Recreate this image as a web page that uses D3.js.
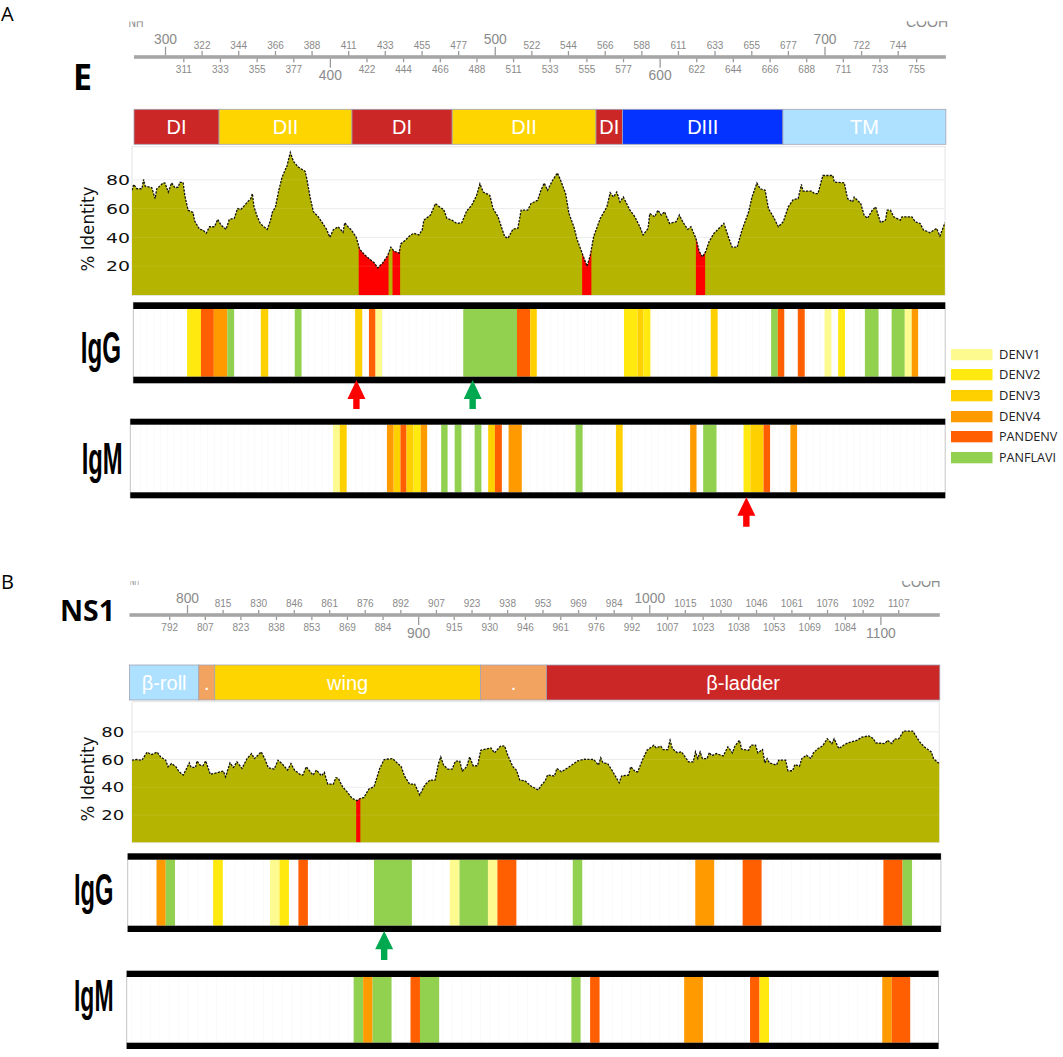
<!DOCTYPE html>
<html><head><meta charset="utf-8">
<script src="https://cdn.jsdelivr.net/npm/d3@7/dist/d3.min.js"></script>
<style>html,body{margin:0;padding:0;background:#fff}svg{display:block}</style>
</head><body><svg id="c" width="1063" height="1057"></svg>
<script>
// ---------- DATA ----------
const serotypes = ["DENV1","DENV2","DENV3","DENV4","PANDENV","PANFLAVI"];

const eTicksTop = [300,322.2,344.4,366.7,388.9,411.1,433.3,455.6,477.8,500,522.2,544.4,566.7,588.9,611.1,633.3,655.6,677.8,700,722.2,744.4];
const eTicksBottom = [311.1,333.3,355.6,377.8,400,422.2,444.4,466.7,488.9,511.1,533.3,555.6,577.8,600,622.2,644.4,666.7,688.9,711.1,733.3,755.6];
const ns1TicksTop = [800,815.4,830.8,846.2,861.5,876.9,892.3,907.7,923.1,938.5,953.8,969.2,984.6,1000,1015.4,1030.8,1046.2,1061.5,1076.9,1092.3,1107.7];
const ns1TicksBottom = [792.3,807.7,823.1,838.5,853.8,869.2,884.6,900,915.4,930.8,946.2,961.5,976.9,992.3,1007.7,1023.1,1038.5,1053.8,1069.2,1084.6,1100];
const majorTicks = [300,400,500,600,700,800,900,1000,1100];
const identityTicks = [80,60,40,20];

const eDomainNames = ["DI","DII","DI","DII","DI","DIII","TM"];
const eDomainEdges = [281.2,332.8,413.4,474.2,561.4,577.5,674.8,773.6];
const ns1DomainNames = ["β-roll",".","wing",".","β-ladder"];
const ns1DomainEdges = [775.1,805.1,812,927,955.5,1125.7];

const eProfile = [[280,72.7],[281,76.8],[283,73.8],[286,73.8],[287,80.2],[288,75.6],[292,74.5],[294,66.9],[295,73.8],[299,77.9],[300,77.7],[302,71.5],[304,77.9],[306,74.5],[308,74.9],[309,78.2],[311,78.2],[312,69.2],[314,58.9],[317,57.3],[318,51.3],[321,45.6],[323,45.2],[325,42.9],[327,47.4],[330,47.4],[332,52.5],[334,48.6],[337,45.6],[339,52.5],[342,53.2],[344,60],[346,59.4],[348,61.9],[350,64.6],[352,66.9],[353,70.4],[354,61.2],[356,54.3],[358,49.3],[362,45.6],[364,52],[365,57.1],[367,61.2],[369,72.7],[371,81.8],[374,89.8],[376,99],[378,92.6],[381,88.7],[385,85.9],[386,80.7],[388,68],[390,57.8],[393,54.3],[395,50.9],[398,45.6],[400,40.1],[402,45.2],[405,47.4],[408,43.5],[409,50.2],[411,47.4],[413,45.2],[416,40.1],[418,31.9],[421,28],[424,25],[427,22.2],[429,18.8],[432,22.2],[435,27.3],[437,33.2],[439,30.3],[442,29.1],[443,35.5],[446,38.3],[449,41.7],[451,42.9],[454,41.7],[456,45.2],[457,52],[461,55.5],[464,63.5],[467,60.7],[469,59.4],[471,53.2],[474,52],[477,49.7],[480,50.2],[483,58.4],[486,62.3],[489,69.2],[491,77.2],[493,71.5],[497,69.2],[499,60],[502,54.3],[504,47.4],[506,40.6],[508,39.4],[511,45.6],[514,46.3],[516,58.9],[520,58.9],[522,63.5],[526,65.8],[528,72.7],[530,77.7],[532,72.7],[535,79.5],[538,84.8],[540,79.5],[543,70.4],[545,56.6],[548,47.4],[550,38.3],[553,29.1],[556,19.9],[558,28],[560,40.6],[564,53.2],[568,61.2],[570,71],[572,68],[574,71.5],[576,64.6],[578,68],[582,58.9],[585,54.3],[588,47.4],[590,41.7],[593,46.3],[594,56.6],[597,54.3],[599,58.9],[601,55.5],[603,57.8],[606,49.7],[610,50.9],[612,55.5],[614,50.9],[617,45.6],[619,47.4],[622,39.4],[624,30.3],[626,26.4],[628,30.3],[630,37.1],[633,42.9],[636,46.3],[639,49.7],[642,39.4],[644,33.2],[647,33.2],[650,45.2],[654,57.8],[656,68],[659,77.7],[661,73.8],[664,72.7],[666,60],[669,54.3],[672,47.4],[675,50.9],[678,61.2],[681,66.2],[684,66.9],[686,76.8],[687,72.2],[692,72.2],[694,70.4],[696,70.4],[699,83],[705,83],[706,78.4],[712,77.9],[714,66.9],[717,64.6],[718,68],[722,63.5],[724,55.5],[726,53.2],[729,58.9],[731,61.2],[734,50.2],[737,52],[738,58.9],[740,58.9],[742,54.3],[746,52],[747,54.3],[750,54.3],[753,54.3],[755,50.9],[758,49.7],[760,45.2],[764,43.3],[768,46.3],[770,41],[772,47],[773,50.2]];
const eLowRanges = [[417.5,435.6],[438,442.6],[553,558.6],[622,627.6]];

const ns1Profile = [[776.1,59.5],[778.3,60],[780.5,59.5],[782.7,65.3],[784.6,63.6],[787.1,65.3],[788.6,61.9],[790.8,59.5],[791.8,54.8],[793.3,57.1],[795.2,54.8],[796.6,51.2],[798.4,48.8],[801,57.6],[801.8,54.3],[803.7,54.3],[804.3,59],[805.7,56],[806.9,55.5],[808.1,59],[810.1,49.3],[812.8,50.4],[815.7,51.7],[816.7,47.6],[818.6,57.6],[820.1,54.3],[821.6,58.3],[823.8,53.6],[826,60.7],[827.9,64.3],[829.2,60.7],[832.1,65.5],[833.6,60.7],[835.2,54],[837.7,53.1],[839.4,59.5],[841.3,56.7],[843.5,52.4],[845,57.1],[846.5,52.4],[848.7,49.5],[850.1,48.8],[851.6,54.8],[854.5,48.8],[856,52.4],[858.2,48.3],[859.4,50.7],[860.9,42.3],[863.3,42.3],[864.4,46.9],[865.5,46.4],[867.3,40.4],[869.2,36.9],[871.4,32.1],[873.6,30.4],[875.1,32.1],[876.5,32.6],[878.7,38.8],[880.9,40.4],[883.4,53.6],[885.3,60],[889,60.7],[891.2,57.1],[892.7,54.8],[894.1,48.1],[896.3,42.3],[898.5,42.3],[900.7,34.5],[902.9,41.6],[905.1,45.2],[907.3,45.2],[908.8,57.1],[909.8,61.9],[911,56],[912.8,53.1],[914.7,53.1],[916.1,58.8],[918,58.8],[919.1,51.7],[921,54.8],[922.3,61.9],[923.8,55.5],[925.7,55.5],[927.1,66.7],[931.5,68.4],[933,64.8],[935.6,69.6],[937.4,69.8],[938.9,62.6],[941,54.8],[942.5,52.4],[944,45.2],[946.2,44.7],[948.8,40.9],[952,38.1],[953,40.9],[955,44.7],[956,48.8],[959,48.1],[960,53.6],[962,51.2],[965,54.3],[969,59],[972,60.2],[976,60],[978,56],[979,61.2],[980,57.6],[982,57.1],[984,51.9],[987,43.3],[988,48.1],[991,48.8],[992,54.8],[994,51.2],[995,51.2],[997,59.5],[999,66.7],[1002,70.3],[1003,68.4],[1005,69.6],[1006,67.2],[1008,67.2],[1009,73.9],[1010,67.9],[1012,65],[1014,65.5],[1017,58.3],[1019,58.3],[1020,65.5],[1021,60.7],[1022,65.5],[1023,60.7],[1025,60.7],[1026,65],[1027,62.6],[1029,64.3],[1032,62.6],[1034,69.1],[1036,64.8],[1037,69.6],[1039,73.9],[1040,67.4],[1043,66.7],[1044,70.3],[1046,70.3],[1047,64.8],[1049,67.2],[1050,57.6],[1051,60.7],[1052,57.6],[1055,56],[1056,59.5],[1059,59.5],[1060,51.9],[1062,51.9],[1063,56.4],[1065,55.2],[1066,60.7],[1068,63.1],[1070,60.7],[1071,64.8],[1073,67.9],[1075,69.8],[1077,75],[1079,71.5],[1080,75],[1082,67.9],[1084,70.3],[1086,72],[1090,73.9],[1092,76.2],[1095,77],[1097,75],[1098,72],[1102,71.5],[1103,73.9],[1105,71.5],[1106,74.6],[1108,75],[1110,80.5],[1114,80.5],[1117,72.7],[1119,69.1],[1122,65.5],[1123,60.7],[1125,57.6],[1126,57.6]];
const ns1LowRanges = [[873.2,875]];

const eIgG = [[313.4,321.8,"DENV2"],[321.8,329.6,"PANDENV"],[329.6,337.8,"DENV4"],[337.8,341.9,"PANFLAVI"],[358.1,362.6,"DENV3"],[378.7,382.8,"PANFLAVI"],[415.3,419.6,"DENV3"],[423.7,427.7,"PANDENV"],[427.7,431.7,"DENV1"],[480.9,513.5,"PANFLAVI"],[513.5,521.5,"PANDENV"],[521.5,525.5,"DENV3"],[578.4,586.6,"DENV2"],[586.6,590.1,"DENV3"],[590.1,594.4,"DENV2"],[631,635.2,"DENV3"],[667.6,671.7,"PANFLAVI"],[671.7,675.6,"PANDENV"],[683.8,688,"PANDENV"],[700,704.2,"DENV1"],[708.3,712.4,"DENV2"],[724.5,732.8,"PANFLAVI"],[740.7,748.7,"PANFLAVI"],[748.7,752.9,"DENV1"],[752.9,756.8,"DENV4"]];
const eIgM = [[401.9,406,"DENV1"],[406,410.2,"DENV3"],[434.6,438.7,"DENV4"],[438.7,442.8,"DENV3"],[442.8,446.5,"PANDENV"],[446.5,450.8,"DENV3"],[450.8,455.1,"DENV2"],[455.1,459,"DENV4"],[467.5,471.4,"PANFLAVI"],[475.7,479.8,"PANFLAVI"],[487.8,491.9,"PANFLAVI"],[496,500.1,"DENV3"],[500.1,504.3,"PANDENV"],[508.4,516.4,"DENV4"],[549,553.3,"PANFLAVI"],[573.5,577.6,"DENV3"],[618.5,622.4,"DENV4"],[626.4,634.5,"PANFLAVI"],[650.9,655,"DENV2"],[655,663,"DENV3"],[663,667,"PANDENV"],[679.3,683.4,"DENV4"]];
const ns1IgG = [[786.8,790.8,"DENV4"],[790.8,794.8,"PANFLAVI"],[811.3,815.5,"DENV2"],[835.9,840,"DENV1"],[840,844.1,"DENV2"],[848.2,852.3,"PANDENV"],[880.9,897.3,"PANFLAVI"],[913.7,917.9,"DENV1"],[917.9,930.2,"PANFLAVI"],[930.2,934.3,"DENV1"],[934.3,942.5,"PANDENV"],[966.9,971,"PANFLAVI"],[1019.9,1028.1,"DENV4"],[1040.4,1048.6,"PANDENV"],[1101.3,1109.6,"PANDENV"],[1109.6,1113.7,"PANFLAVI"]];
const ns1IgM = [[872.1,876.2,"PANFLAVI"],[876.2,880.3,"DENV4"],[880.3,888.5,"PANFLAVI"],[896.7,900.8,"PANDENV"],[900.8,909.1,"PANFLAVI"],[966.3,970.3,"PANFLAVI"],[974.4,978.5,"PANDENV"],[1015.1,1023.2,"DENV4"],[1043.6,1047.7,"PANDENV"],[1047.7,1051.8,"DENV2"],[1100.8,1104.9,"DENV4"],[1104.9,1112.9,"PANDENV"]];

// arrows: residue, kind
const eArrowsIgG = [[416.1,"red"],[486.6,"green"]];
const eArrowsIgM = [[652.6,"red"]];
const ns1ArrowsIgG = [[885.3,"green"]];

// ---------- STYLES ----------
const serotypeColor = d3.scaleOrdinal(serotypes,["#fdfb90","#ffe90f","#ffd000","#ff9b00","#ff5f00","#92d050"]);
const domainColor = {"DI":"#cc2727","DII":"#ffd500","DIII":"#0433ff","TM":"#aee0ff","β-roll":"#aee0ff",".":"#f2a360","wing":"#ffd500","β-ladder":"#cc2727"};
const arrowColor = {red:"#fe0000",green:"#00a850"};
const OLIVE = "#b5b400";
const svg = d3.select("#c");
const defs = svg.append("defs");
let clipId = 0;
function clip(x,y,w,h){const id="cl"+(++clipId);defs.append("clipPath").attr("id",id).append("rect").attr("x",x).attr("y",y).attr("width",w).attr("height",h);return `url(#${id})`;}

function drawAxis(g,x,ticks,axisY,cfg,orient){
  const up = orient==="top";
  const axis = (up?d3.axisTop:d3.axisBottom)(x).tickValues(ticks).tickFormat(d=>Math.floor(d)).tickSize(cfg.small);
  const a = g.append("g").attr("transform",`translate(0,${axisY})`).call(axis);
  a.select(".domain").remove();
  a.selectAll(".tick line").attr("stroke","#9a9a9a").attr("stroke-width",1.3)
    .attr("y2",d=>(up?-1:1)*(majorTicks.includes(d)?cfg.big:cfg.small));
  a.selectAll(".tick text")
    .attr("font-family","'Liberation Sans',Arial,sans-serif")
    .attr("fill","#8a8a8a")
    .attr("font-size",d=>majorTicks.includes(d)?13.8:10)
    .attr("y",d=>(up?-1:1)*(majorTicks.includes(d)?cfg.bigLabel:cfg.smallLabel))
    .attr("dy",".35em");
  a.attr("font-family",null).attr("font-size",null);
}

function drawDomains(g,x,names,edges,y0,y1){
  const segs = names.map((n,i)=>({n,a:edges[i],b:edges[i+1]}));
  const s = g.selectAll(null).data(segs).enter();
  s.append("rect").attr("x",d=>x(d.a)).attr("y",y0).attr("width",d=>x(d.b)-x(d.a)).attr("height",y1-y0)
    .attr("fill",d=>domainColor[d.n]).attr("stroke","#a4a4b4").attr("stroke-width",0.8);
  s.append("text").attr("x",d=>(x(d.a)+x(d.b))/2).attr("y",(y0+y1)/2).attr("dy",".36em").attr("text-anchor","middle")
    .attr("font-family","'Liberation Sans',Arial,sans-serif").attr("font-size",20).attr("fill","#fff").text(d=>d.n);
}

function drawProfile(g,x,profile,lows,c){
  const y = d3.scaleLinear().domain([0,100]).range([c.y0,c.y0-c.k*100]);
  const [L,R]=[c.left,c.right];
  g.append("rect").attr("x",L).attr("y",c.top).attr("width",R-L).attr("height",c.bottom-c.top).attr("fill","#fff").attr("stroke","#e4e4e4").attr("stroke-width",1);
  const grid=g.append("g");
  grid.selectAll(null).data(identityTicks).enter().append("line").attr("x1",L).attr("x2",R).attr("y1",d=>y(d)).attr("y2",d=>y(d)).attr("stroke","#ececec");
  const area=d3.area().x(d=>x(d[0])).y0(c.bottom).y1(d=>y(d[1])).curve(d3.curveLinear);
  const cp=clip(L,c.top-4,R-L,c.bottom-c.top+4);
  const plot=g.append("g").attr("clip-path",cp);
  plot.append("path").datum(profile).attr("d",area).attr("fill",OLIVE);
  lows.forEach(r=>{
    plot.append("path").datum(profile).attr("d",area).attr("fill","#fe0000")
      .attr("clip-path",clip(x(r[0]),c.top,x(r[1])-x(r[0]),c.bottom-c.top));
  });
  plot.selectAll(null).data(identityTicks).enter().append("line").attr("x1",L).attr("x2",R).attr("y1",d=>y(d)).attr("y2",d=>y(d)).attr("stroke","#fff").attr("stroke-opacity",0.1);
  plot.append("path").datum(profile).attr("d",d3.line().x(d=>x(d[0])).y(d=>y(d[1]))).attr("fill","none").attr("stroke","#111").attr("stroke-width",1.3).attr("stroke-dasharray","2.2 1.3");
  const ax=g.append("g").attr("transform",`translate(${L},0)`).call(d3.axisLeft(y).tickValues(identityTicks).tickSize(0).tickPadding(c.pad));
  ax.select(".domain").remove();
  ax.selectAll("text").attr("font-family","'DejaVu Sans',sans-serif").attr("font-size",14.5).attr("fill","#111")
    .attr("textLength",c.tickW).attr("lengthAdjust","spacingAndGlyphs");
  g.append("text").attr("transform",`translate(94,${c.labelY}) rotate(-90)`).attr("text-anchor","middle")
    .attr("font-family","'DejaVu Sans',sans-serif").attr("font-size",18).attr("textLength",85).attr("lengthAdjust","spacingAndGlyphs").attr("fill","#111").text("% Identity");
}

function drawStrip(g,x,bands,c){
  const cell=g.append("g");
  const gx=d3.range(c.from,c.to,4.08);
  cell.selectAll(null).data(gx).enter().append("line").attr("x1",d=>x(d)).attr("x2",d=>x(d)).attr("y1",c.t1).attr("y2",c.b0).attr("stroke","#fafafa");
  g.selectAll(null).data(bands).enter().append("rect")
    .attr("x",d=>x(d[0])).attr("width",d=>x(d[1])-x(d[0])).attr("y",c.t1).attr("height",c.b0-c.t1)
    .attr("fill",d=>serotypeColor(d[2]));
  [[c.L],[c.R]].forEach(p=>g.append("line").attr("x1",p[0]).attr("x2",p[0]).attr("y1",c.t0).attr("y2",c.b1).attr("stroke","#c4c4c4"));
  g.append("rect").attr("x",c.L).attr("y",c.t0).attr("width",c.R-c.L).attr("height",c.t1-c.t0).attr("fill","#000");
  g.append("rect").attr("x",c.L).attr("y",c.b0).attr("width",c.R-c.L).attr("height",c.b1-c.b0).attr("fill","#000");
  g.append("text").attr("x",c.labelX).attr("y",c.labelY).attr("font-family","'Liberation Sans',Arial,sans-serif").attr("font-weight",700)
    .attr("font-size",45).attr("textLength",c.labelW).attr("lengthAdjust","spacingAndGlyphs").attr("fill","#000").text(c.label);
}

function drawArrows(g,x,arrows,tip,base,end){
  const hw=9,sw=3.2;
  g.selectAll(null).data(arrows).enter().append("path")
    .attr("d",d=>{const p=d3.path(),cx=x(d[0]);p.moveTo(cx,tip);p.lineTo(cx+hw,base);p.lineTo(cx+sw,base);p.lineTo(cx+sw,end);p.lineTo(cx-sw,end);p.lineTo(cx-sw,base);p.lineTo(cx-hw,base);p.closePath();return p;})
    .attr("fill",d=>arrowColor[d[1]]);
}

function sideText(t,xp,yp,size,weight,w){
  const s=svg.append("text").attr("x",xp).attr("y",yp).attr("font-family","'Open Sans',sans-serif").attr("font-size",size).attr("font-weight",weight).attr("fill","#000").text(t);
  if(w) s.attr("textLength",w).attr("lengthAdjust","spacingAndGlyphs");
}
function cutText(t,xp,yp,size,clipY,w){
  svg.append("g").attr("clip-path",clip(xp-2,clipY,w+6,30)).append("text").attr("x",xp).attr("y",yp)
    .attr("font-family","'Liberation Sans',Arial,sans-serif").attr("font-size",size).attr("fill","#8a8a8a")
    .attr("textLength",w).attr("lengthAdjust","spacingAndGlyphs").text(t);
}

// ---------- PANEL A (E) ----------
const xE = d3.scaleLinear().domain([300,700]).range([165,824.5]);
const pE = svg.append("g");
pE.append("rect").attr("x",xE(281.2)).attr("y",55.2).attr("width",xE(773.6)-xE(281.2)).attr("height",3.6).attr("fill","#a6a6a6");
drawAxis(pE,xE,eTicksTop,55.5,{small:4.5,big:8.8,smallLabel:10.5,bigLabel:16.2},"top");
drawAxis(pE,xE,eTicksBottom,58.6,{small:3.6,big:9.1,smallLabel:10.7,bigLabel:16.7},"bottom");
drawDomains(pE,xE,eDomainNames,eDomainEdges,109.3,144.3);
drawProfile(pE,xE,eProfile,eLowRanges,{y0:295,k:1.44,top:146.7,bottom:295.3,left:132,right:945,pad:2,tickW:24,labelY:229});
drawStrip(pE,xE,eIgG,{from:281,to:774,L:133.3,R:945.2,t0:302.3,t1:309,b0:376.7,b1:383.3,label:"IgG",labelX:80.7,labelY:362.7,labelW:40.3});
drawStrip(pE,xE,eIgM,{from:281,to:774,L:130.3,R:945.2,t0:418.7,t1:424.7,b0:492.3,b1:498.3,label:"IgM",labelX:81.7,labelY:474.3,labelW:41});
drawArrows(pE,xE,eArrowsIgG,380,399,409);
drawArrows(pE,xE,eArrowsIgM,497.3,515.7,526.7);

// ---------- PANEL B (NS1) ----------
const xN = d3.scaleLinear().domain([800,1100]).range([187,880.4]);
const pN = svg.append("g");
pN.append("rect").attr("x",xN(775.1)).attr("y",613.2).attr("width",xN(1125.7)-xN(775.1)).attr("height",3.6).attr("fill","#a6a6a6");
drawAxis(pN,xN,ns1TicksTop,613.5,{small:3.5,big:8.5,smallLabel:9.8,bigLabel:15.2},"top");
drawAxis(pN,xN,ns1TicksBottom,616.5,{small:3.5,big:8.5,smallLabel:10.8,bigLabel:16.5},"bottom");
drawDomains(pN,xN,ns1DomainNames,ns1DomainEdges,665,700);
drawProfile(pN,xN,ns1Profile,ns1LowRanges,{y0:842.8,k:1.388,top:701.7,bottom:842.6,left:132,right:939.2,pad:7.7,tickW:23,labelY:779});
drawStrip(pN,xN,ns1IgG,{from:776,to:1126,L:127.7,R:940.9,t0:853.3,t1:859.7,b0:925.7,b1:932,label:"IgG",labelX:74,labelY:905,labelW:39.5});
drawStrip(pN,xN,ns1IgM,{from:776,to:1126,L:126.7,R:938.5,t0:970.7,t1:977,b0:1042.7,b1:1049,label:"IgM",labelX:74,labelY:1011,labelW:39.5});
drawArrows(pN,xN,ns1ArrowsIgG,931,949.3,960);

// ---------- TEXT ----------
sideText("A",1,20.7,20,400);
sideText("B",1,589.3,20,400);
sideText("E",73,90,36,700,19);
sideText("NS1",60,620.7,29,700,55);
cutText("NH",128.5,26.7,14,21.5,15);
cutText("COOH",906,26.7,14,21.3,42);
cutText("NH",130,585,12,581,9);
cutText("COOH",901.5,586.7,14,581,39);

// ---------- LEGEND ----------
const legendTop=[349,369,390,411,431,452];
const lg=svg.append("g");
const items=serotypes.map((s,i)=>({s,y:legendTop[i]}));
lg.selectAll(null).data(items).enter().append("rect").attr("x",951).attr("y",d=>d.y).attr("width",41.5).attr("height",11.3).attr("fill",d=>serotypeColor(d.s));
lg.selectAll(null).data(items).enter().append("text").attr("x",999).attr("y",d=>d.y+5.7).attr("dy",".36em")
  .attr("font-family","'Open Sans',sans-serif").attr("font-size",12.5).attr("fill","#222")
  .attr("textLength",d=>d.s==="PANFLAVI"?57:d.s==="PANDENV"?58.4:41.4).attr("lengthAdjust","spacingAndGlyphs").text(d=>d.s);
</script></body></html>
